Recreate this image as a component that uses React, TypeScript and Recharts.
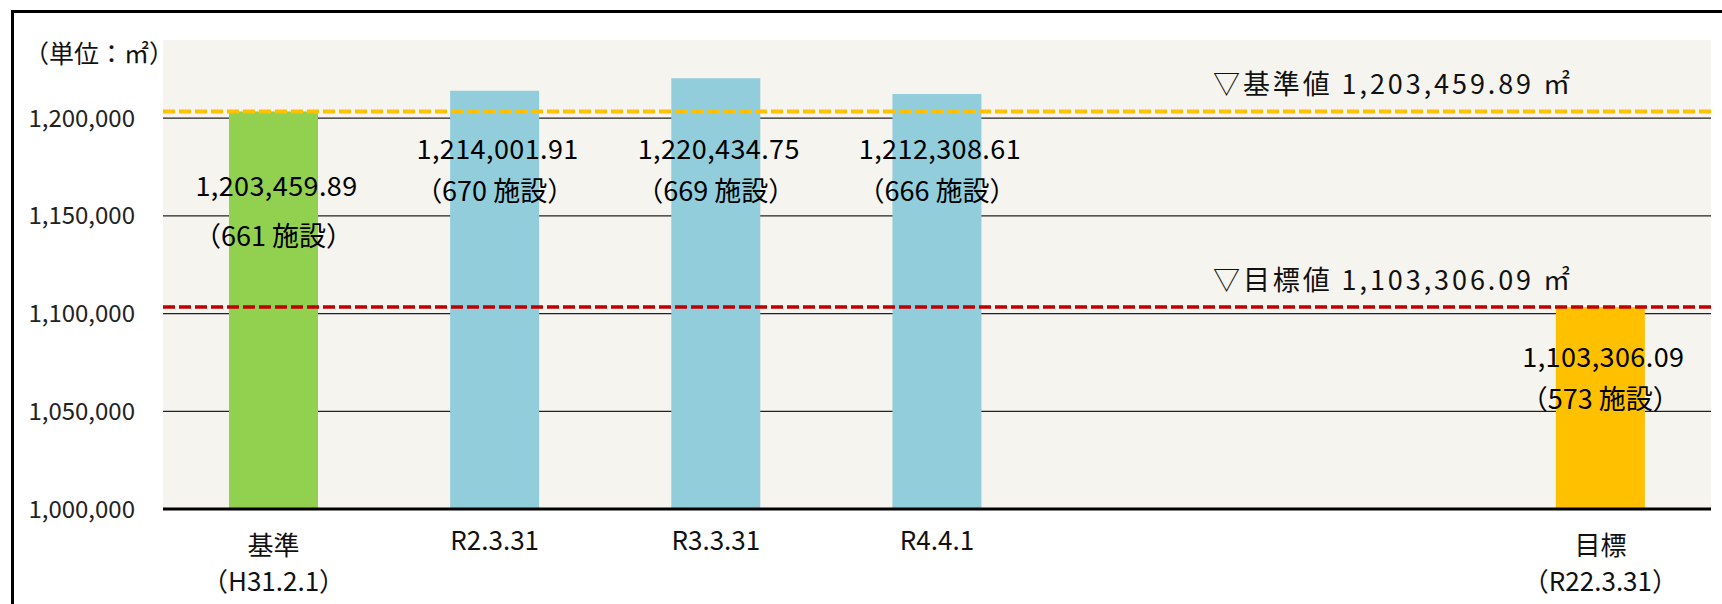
import React from "react";
import {
  BarChart,
  Bar,
  Cell,
  XAxis,
  YAxis,
  CartesianGrid,
  ReferenceLine,
  LabelList,
} from "recharts";

const CATEGORIES = ["基準", "R2.3.31", "R3.3.31", "R4.4.1", "", "", "目標"];
const SUBTITLES = ["（H31.2.1）", "", "", "", "", "", "（R22.3.31）"];
const FLOOR_AREA = [1203459.89, 1214001.91, 1220434.75, 1212308.61, null, null, 1103306.09];
const FACILITIES = [661, 670, 669, 666, null, null, 573];
const KIND = ["base", "actual", "actual", "actual", "none", "none", "target"];
const Y_TICKS = [1000000, 1050000, 1100000, 1150000, 1200000];
const BASE_VALUE = 1203459.89;
const TARGET_VALUE = 1103306.09;

const data = CATEGORIES.map((name, i) => ({
  key: `c${i}`,
  name,
  sub: SUBTITLES[i],
  area: FLOOR_AREA[i],
  count: FACILITIES[i],
  kind: KIND[i],
}));

const FONT = '"Noto Sans CJK JP", "Noto Sans", sans-serif';
const COLORS: Record<string, string> = {
  base: "#92d050",
  actual: "#92cddc",
  target: "#ffc000",
  none: "transparent",
};

const fmt2 = (v: number) =>
  v.toLocaleString("en-US", { minimumFractionDigits: 2, maximumFractionDigits: 2 });

const CategoryTick = ({ x, y, payload }: any) => {
  const i = payload.index;
  const name = CATEGORIES[i];
  const sub = SUBTITLES[i];
  if (!name) return null;
  return (
    <g fontFamily={FONT} fontSize={26} fill="#111">
      <text x={x} y={sub ? y + 34 : y + 29} textAnchor="middle" dominantBaseline="central">
        {name}
      </text>
      {sub && (
        <text x={x} y={y + 70} textAnchor="middle" dominantBaseline="central">
          {sub}
        </text>
      )}
    </g>
  );
};

const BarValueLabel = (props: any) => {
  const { x, y, width, height, value } = props;
  const d = data.find((e) => e.area != null && e.area === Number(value));
  if (!d || d.area == null) return null;
  const cx = x + width / 2;
  let l1: number;
  let gap = 42;
  if (d.kind === "base") {
    l1 = y + 73;
    gap = 50;
  } else if (d.kind === "target") {
    l1 = y + 48;
  } else {
    l1 = y + height - 362;
  }
  return (
    <g fontFamily={FONT} fontSize={27} fill="#000">
      <text x={cx + 3} y={l1} textAnchor="middle" dominantBaseline="central" letterSpacing={0.4}>
        {fmt2(d.area)}
      </text>
      <text x={cx} y={l1 + gap} textAnchor="middle" dominantBaseline="central">
        {`（${d.count} 施設）`}
      </text>
    </g>
  );
};

const RefLabel = ({ viewBox, text }: any) => {
  if (!viewBox) return null;
  const right = viewBox.x + viewBox.width;
  return (
    <text
      x={right - 498}
      y={viewBox.y - 29}
      dominantBaseline="central"
      fontFamily={FONT}
      fontSize={27}
      fill="#111"
      textLength={357}
    >
      {text}
    </text>
  );
};

export default function App() {
  return (
    <div
      style={{
        position: "absolute",
        left: 0,
        top: 0,
        width: 1722,
        height: 604,
        background: "#fff",
        overflow: "hidden",
      }}
    >
      <div
        style={{
          position: "absolute",
          left: 11,
          top: 10,
          width: 1800,
          height: 700,
          borderLeft: "3px solid #000",
          borderTop: "3px solid #000",
        }}
      />
      <div
        style={{
          position: "absolute",
          left: 24,
          top: 35,
          fontFamily: FONT,
          fontSize: 25,
          lineHeight: "34px",
          color: "#111",
          whiteSpace: "nowrap",
        }}
      >
        （単位：㎡）
      </div>
      <div style={{ position: "absolute", left: 0, top: 0 }}>
        <BarChart
          width={1722}
          height={604}
          data={data}
          margin={{ top: 40, right: 11, bottom: 65, left: 0 }}
        >
          <CartesianGrid
            vertical={false}
            horizontalValues={Y_TICKS}
            fill="#f5f4ef"
            stroke="#222"
            strokeWidth={1.3}
          />
          <XAxis
            dataKey="key"
            tick={<CategoryTick />}
            tickLine={false}
            tickSize={0}
            tickMargin={0}
            height={30}
            axisLine={{ stroke: "#000", strokeWidth: 3 }}
            interval={0}
          />
          <YAxis
            domain={[1000000, 1240000]}
            ticks={Y_TICKS}
            allowDataOverflow
            width={163}
            axisLine={false}
            tickLine={false}
            tickSize={0}
            tickMargin={28}
            tickFormatter={(v: number) => v.toLocaleString("en-US")}
            tick={{ fontFamily: FONT, fontSize: 24, fill: "#222" }}
          />
          <Bar dataKey="area" barSize={89} isAnimationActive={false}>
            {data.map((d, i) => (
              <Cell key={i} fill={COLORS[d.kind]} />
            ))}
            <LabelList dataKey="area" content={<BarValueLabel />} />
          </Bar>
          <ReferenceLine
            y={BASE_VALUE}
            stroke="#ffc000"
            strokeWidth={4}
            strokeDasharray="12 4"
            label={<RefLabel text="▽基準値 1,203,459.89 ㎡" />}
          />
          <ReferenceLine
            y={TARGET_VALUE}
            stroke="#c00000"
            strokeWidth={3.5}
            strokeDasharray="12 4"
            label={<RefLabel text="▽目標値 1,103,306.09 ㎡" />}
          />
        </BarChart>
      </div>
    </div>
  );
}
